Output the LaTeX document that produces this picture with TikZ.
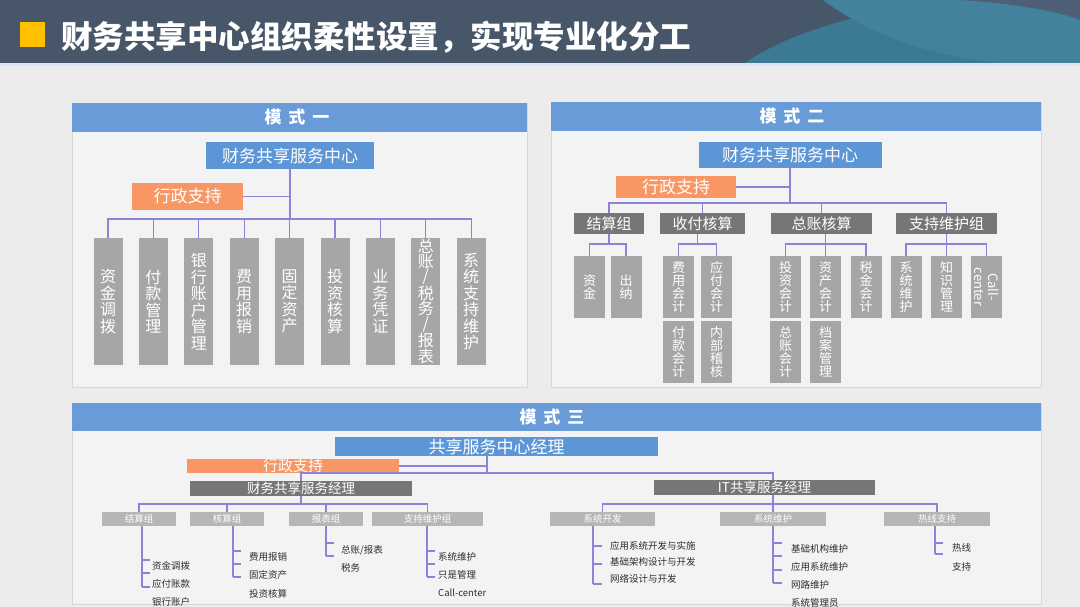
\documentclass[tikz,border=0pt]{standalone}
\usepackage{fontspec}
\setmainfont{Noto Sans CJK SC}
\definecolor{pagebg}{RGB}{236,236,236}
\definecolor{panelbg}{RGB}{243,243,243}
\definecolor{panelborder}{RGB}{215,215,215}
\definecolor{headC}{RGB}{72,86,106}
\definecolor{tealA}{RGB}{60,122,148}
\definecolor{tealC}{RGB}{66,130,156}
\definecolor{tealB}{RGB}{78,96,120}
\definecolor{yellowC}{RGB}{255,192,0}
\definecolor{barC}{RGB}{104,155,216}
\definecolor{blueC}{RGB}{92,150,214}
\definecolor{orangeC}{RGB}{248,150,100}
\definecolor{darkC}{RGB}{118,118,118}
\definecolor{grayC}{RGB}{166,166,166}
\definecolor{lgrayC}{RGB}{182,182,182}
\definecolor{lineC}{RGB}{140,130,215}
\definecolor{itemC}{RGB}{45,45,45}
\begin{document}
\begin{tikzpicture}[x=1pt,y=-1pt,
  conn/.style={draw=lineC, line width=1.2pt},
  box/.style={inner sep=0pt, outer sep=0pt, text=white, align=center},
  bluebox/.style={box, fill=blueC},
  orangebox/.style={box, fill=orangeC},
  darkbox/.style={box, fill=darkC},
  vbox/.style={box, fill=grayC, minimum width=29pt, minimum height=127pt, font=\fontsize{16}{16.5}\selectfont},
  lbox/.style={box, fill=grayC, minimum width=31pt, minimum height=62pt, font=\fontsize{13}{13.2}\selectfont},
  sbox/.style={box, fill=lgrayC, minimum height=14pt, font=\fontsize{9.5}{10}\selectfont},
  item/.style={anchor=west, inner sep=0pt, text=itemC, font=\fontsize{9.5}{10}\selectfont},
  bartitle/.style={inner sep=0pt, text=white, font=\fontsize{17}{17}\selectfont\bfseries},
  panel/.style={fill=panelbg, draw=panelborder, line width=0.6pt},
  bar/.style={fill=barC}
]
\useasboundingbox (0,0) rectangle (1080,607);
\clip (0,0) rectangle (1080,607);
\fill[pagebg] (0,0) rectangle (1080,607);

% ---------- header ----------
\fill[headC] (0,0) rectangle (1080,63);
\fill[tealA] (745,63) .. controls (800,25) and (900,1) .. (1000,0) -- (1080,0) -- (1080,63) -- cycle;
\fill[tealC] (823,0) .. controls (870,35) and (930,56) .. (1000,63) -- (1080,63) -- (1080,0) -- cycle;
\fill[tealB] (960,0) .. controls (1020,4) and (1060,12) .. (1080,20) -- (1080,0) -- cycle;
\fill[white!75!barC] (0,63) rectangle (1080,66);
\fill[yellowC] (20,22) rectangle (45,47);
\node[anchor=west, inner sep=0pt, text=white, font=\fontsize{31.5}{32}\selectfont\bfseries] (title) at (61,37) {财务共享中心组织柔性设置，实现专业化分工};

% ---------- panel 1 ----------
\filldraw[panel] (72,103) rectangle (527,387);
\fill[bar] (72,103) rectangle (527,132);
\node[bartitle] (t1) at (297,117.5) {模\hspace{0.4em}式\hspace{0.4em}一};

\node[bluebox, minimum width=168pt, minimum height=27pt, font=\fontsize{17}{17}\selectfont] (p1top) at (290,155.5) {财务共享服务中心};
\node[orangebox, minimum width=111pt, minimum height=27pt, font=\fontsize{17}{17}\selectfont] (p1adm) at (187.5,196.5) {行政支持};
\coordinate (p1bus) at (290,219);

\node[vbox] (p1b1) at (108,301.5) {资\\金\\调\\拨};
\node[vbox] (p1b2) at (153.4,301.5) {付\\款\\管\\理};
\node[vbox] (p1b3) at (198.8,301.5) {银\\行\\账\\户\\管\\理};
\node[vbox] (p1b4) at (244.2,301.5) {费\\用\\报\\销};
\node[vbox] (p1b5) at (289.6,301.5) {固\\定\\资\\产};
\node[vbox] (p1b6) at (335,301.5) {投\\资\\核\\算};
\node[vbox] (p1b7) at (380.4,301.5) {业\\务\\凭\\证};
\node[vbox, font=\fontsize{16}{14.6}\selectfont] (p1b8) at (425.8,301.5) {总\\账\\/\\税\\务\\/\\报\\表};
\node[vbox] (p1b9) at (471.2,301.5) {系\\统\\支\\持\\维\\护};

\draw[conn] (p1top.south) -- (p1bus);
\draw[conn] (p1adm.east) -- (p1adm.east -| p1top.south);
\foreach \n in {p1b1,p1b2,p1b3,p1b4,p1b5,p1b6,p1b7,p1b8,p1b9}
  \draw[conn] (\n.north) |- (p1bus);

% ---------- panel 2 ----------
\filldraw[panel] (551,102) rectangle (1041,387);
\fill[bar] (551,102) rectangle (1041,131);
\node[bartitle] (t2) at (792,116.5) {模\hspace{0.4em}式\hspace{0.4em}二};

\node[bluebox, minimum width=183pt, minimum height=26pt, font=\fontsize{17}{17}\selectfont] (p2top) at (790,155) {财务共享服务中心};
\node[orangebox, minimum width=120pt, minimum height=22pt, font=\fontsize{17}{17}\selectfont] (p2adm) at (676,187) {行政支持};
\coordinate (p2bus) at (790,203);

\node[darkbox, minimum width=70pt, minimum height=21pt, font=\fontsize{15}{15}\selectfont] (g1) at (609,223.5) {结算组};
\node[darkbox, minimum width=85pt, minimum height=21pt, font=\fontsize{15}{15}\selectfont] (g2) at (702.5,223.5) {收付核算};
\node[darkbox, minimum width=101pt, minimum height=21pt, font=\fontsize{15}{15}\selectfont] (g3) at (821.5,223.5) {总账核算};
\node[darkbox, minimum width=101pt, minimum height=21pt, font=\fontsize{15}{15}\selectfont] (g4) at (946.5,223.5) {支持维护组};

\draw[conn] (p2top.south) -- (p2bus);
\draw[conn] (p2adm.east) -- (p2adm.east -| p2top.south);
\foreach \n in {g1,g2,g3,g4}
  \draw[conn] (\n.north) |- (p2bus);

\node[lbox] (c11) at (589.5,287) {资\\金};
\node[lbox] (c12) at (626,287) {出\\纳};
\node[lbox] (c21) at (678.5,287) {费\\用\\会\\计};
\node[lbox] (c22) at (716.5,287) {应\\付\\会\\计};
\node[lbox] (c23) at (678.5,352) {付\\款\\会\\计};
\node[lbox] (c24) at (716.5,352) {内\\部\\稽\\核};
\node[lbox] (c31) at (785.5,287) {投\\资\\会\\计};
\node[lbox] (c32) at (825.5,287) {资\\产\\会\\计};
\node[lbox] (c33) at (866,287) {税\\金\\会\\计};
\node[lbox] (c34) at (785.5,352) {总\\账\\会\\计};
\node[lbox] (c35) at (825.5,352) {档\\案\\管\\理};
\node[lbox] (c41) at (906,287) {系\\统\\维\\护};
\node[lbox] (c42) at (946.5,287) {知\\识\\管\\理};
\node[lbox] (c43) at (986.5,287) {};
\node[inner sep=0pt, text=white, align=center, rotate=-90, font=\fontsize{13}{13.5}\selectfont] (c43t) at (c43.center) {Call-\\center};

\coordinate (g1j) at (609,244);
\coordinate (g2j) at (697.5,244);
\coordinate (g3j) at (825.5,244);
\coordinate (g4j) at (946.5,244);
\draw[conn] (g1.south -| g1j) -- (g1j);
\draw[conn] (g2.south -| g2j) -- (g2j);
\draw[conn] (g3.south -| g3j) -- (g3j);
\draw[conn] (g4.south -| g4j) -- (g4j);
\foreach \n/\j in {c11/g1j,c12/g1j,c21/g2j,c22/g2j,c31/g3j,c32/g3j,c33/g3j,c41/g4j,c42/g4j,c43/g4j}
  \draw[conn] (\n.north) |- (\j);

% ---------- panel 3 ----------
\filldraw[panel] (72,403) rectangle (1041,604);
\fill[bar] (72,403) rectangle (1041,431);
\node[bartitle] (t3) at (552,417) {模\hspace{0.4em}式\hspace{0.4em}三};

\coordinate (m3j) at (487,473);
\coordinate (finbus) at (301,504);
\coordinate (itbus) at (773,504);

\node[bluebox, minimum width=323pt, minimum height=19pt, font=\fontsize{17}{17}\selectfont] (m3top) at (496.5,446.5) {共享服务中心经理};
\node[orangebox, minimum width=212pt, minimum height=14pt, font=\fontsize{15}{15}\selectfont] (m3adm) at (293,466) {行政支持};

% group boxes
\node[sbox, minimum width=74pt] (s1) at (139,519) {结算组};
\node[sbox, minimum width=74pt] (s2) at (227,519) {核算组};
\node[sbox, minimum width=74pt] (s3) at (326,519) {报表组};
\node[sbox, minimum width=111pt] (s4) at (427.5,519) {支持维护组};
\node[sbox, minimum width=105pt] (s5) at (602.5,518.5) {系统开发};
\node[sbox, minimum width=106pt] (s6) at (773,518.5) {系统维护};
\node[sbox, minimum width=106pt] (s7) at (937,518.5) {热线支持};

\draw[conn] (m3top.south -| m3j) -- (m3j);
\draw[conn] (m3adm.east) -- (m3adm.east -| m3j);
\draw[conn] (m3j) -| (s6.north);

\node[darkbox, minimum width=222pt, minimum height=15pt, font=\fontsize{13.5}{13.5}\selectfont] (fin) at (301,488.5) {财务共享服务经理};
\node[darkbox, minimum width=221pt, minimum height=15pt, font=\fontsize{13.5}{13.5}\selectfont] (it) at (764.5,487.5) {IT共享服务经理};
\draw[conn] (m3j) -| (fin.north);
\draw[conn] (fin.south) -- (finbus);
\foreach \n in {s1,s2,s3,s4}
  \draw[conn] (\n.north) |- (finbus);
\foreach \n in {s5,s7}
  \draw[conn] (\n.north) |- (itbus);

% item lists
\draw[conn] (s1.south -| 142,0) -- (142,587);
\foreach \y in {560,573,587} \draw[conn] (142,\y) -- (150,\y);
\node[item] (i11) at (152,566) {资金调拨};
\node[item] (i12) at (152,584) {应付账款};
\node[item] (i13) at (152,602) {银行账户};

\draw[conn] (s2.south -| 233,0) -- (233,577);
\foreach \y in {551,564,577} \draw[conn] (233,\y) -- (241,\y);
\node[item] (i21) at (249,557) {费用报销};
\node[item] (i22) at (249,575) {固定资产};
\node[item] (i23) at (249,594) {投资核算};

\draw[conn] (s3.south) -- (326,556);
\foreach \y in {543,556} \draw[conn] (326,\y) -- (334,\y);
\node[item] (i31) at (341,550) {总账/报表};
\node[item] (i32) at (341,568) {税务};

\draw[conn] (s4.south -| 427,0) -- (427,577);
\foreach \y in {551,564,577} \draw[conn] (427,\y) -- (435,\y);
\node[item] (i41) at (438,557) {系统维护};
\node[item] (i42) at (438,575) {只是管理};
\node[item] (i43) at (438,593) {Call-center};

\draw[conn] (s5.south -| 593,0) -- (593,584);
\foreach \y in {546,564,584} \draw[conn] (593,\y) -- (602,\y);
\node[item] (i51) at (610,546) {应用系统开发与实施};
\node[item] (i52) at (610,562) {基础架构设计与开发};
\node[item] (i53) at (610,579) {网络设计与开发};

\draw[conn] (s6.south) -- (773,583);
\foreach \y in {543,556,570,583} \draw[conn] (773,\y) -- (782,\y);
\node[item] (i61) at (791,549) {基础机构维护};
\node[item] (i62) at (791,567) {应用系统维护};
\node[item] (i63) at (791,585) {网路维护};
\node[item] (i64) at (791,603) {系统管理员};

\draw[conn] (s7.south -| 935,0) -- (935,554);
\foreach \y in {543,554} \draw[conn] (935,\y) -- (943,\y);
\node[item] (i71) at (952,548) {热线};
\node[item] (i72) at (952,567) {支持};
\end{tikzpicture}
\end{document}
